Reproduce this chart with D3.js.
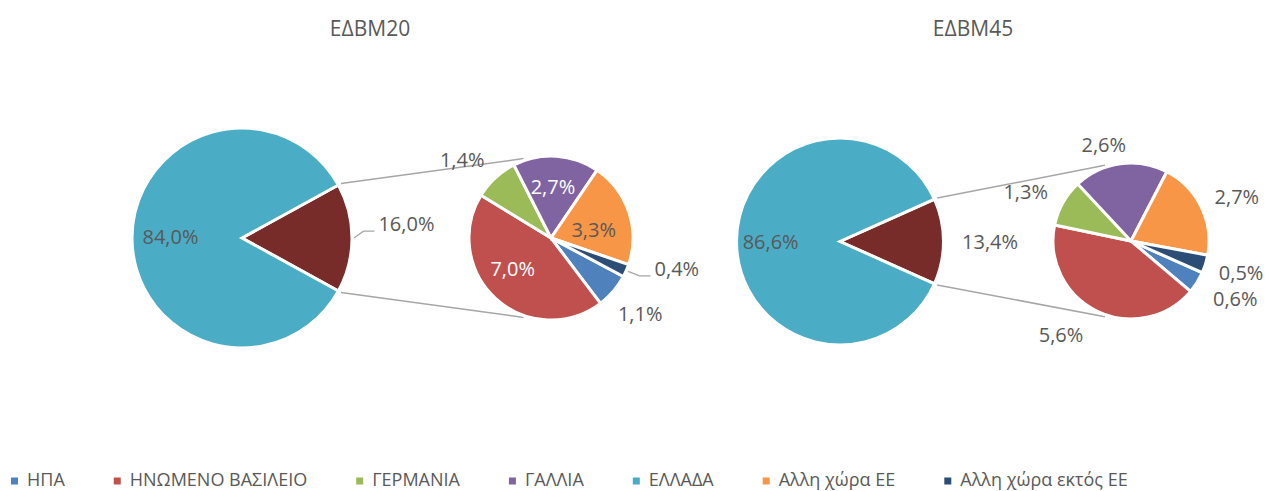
<!DOCTYPE html>
<html lang="el">
<head>
<meta charset="UTF-8">
<title>ΕΔΒΜ20 / ΕΔΒΜ45</title>
<script src="https://d3js.org/d3.v7.min.js"></script>
<style>
    body { margin: 0; background: #fff; }
    text { font-family: "Open Sans", sans-serif; fill: #595959; }
</style>
</head>
<body>
<script>
// data (percent)
const categories = ["ΗΠΑ", "ΗΝΩΜΕΝΟ ΒΑΣΙΛΕΙΟ", "ΓΕΡΜΑΝΙΑ", "ΓΑΛΛΙΑ", "ΕΛΛΑΔΑ", "Αλλη χώρα ΕΕ", "Αλλη χώρα εκτός ΕΕ"];
const edbm20 = [1.1, 7.0, 1.4, 2.7, 84.0, 3.3, 0.4];
const edbm45 = [0.6, 5.6, 1.3, 2.6, 86.6, 2.7, 0.5];
const titles = ["ΕΔΒΜ20", "ΕΔΒΜ45"];

const colors = ["#4F81BD", "#C0504D", "#9BBB59", "#8064A2", "#4BACC6", "#F79646", "#2C4D75"];
const otherColor = "#772C2A";

const width = 1269, height = 491;
const rad = d => d * Math.PI / 180;

const svg = d3.select("body").append("svg")
    .attr("width", width).attr("height", height);

// layout per chart
const charts = [
    {
        values: edbm20, title: titles[0], titleX: 370,
        main: {cx: 242, cy: 238, r: 110}, sec: {cx: 551, cy: 238, r: 82}, secStart: 118,
        // label placement: radius factor and angle shift from slice middle (deg)
        secK: [1.43, 0.6, 1.44, 0.63, 0.53, 1.58],
        secDa: [0, 9, -6, -1.5, 7.5, -9.7],
        secWhite: [false, true, false, true, false, false],
        secLeader: [false, false, false, false, false, true],
        mainK: [1.5, 0.65], mainDa: [-4.8, 1], mainLeader: [true, false]
    },
    {
        values: edbm45, title: titles[1], titleX: 973,
        main: {cx: 840, cy: 241.5, r: 103.5}, sec: {cx: 1131, cy: 241, r: 78}, secStart: 114,
        secK: [1.53, 1.5, 1.49, 1.28, 1.47, 1.47],
        secDa: [-3, 10.7, -4.4, -8, 3.5, -1],
        secWhite: [false, false, false, false, false, false],
        secLeader: [false, false, false, false, false, false],
        mainK: [1.45, 0.67], mainDa: [0, 0], mainLeader: [false, false]
    }
];

const fmt = v => d3.format(".1f")(v).replace(".", ",") + "%";
const greeceIdx = categories.indexOf("ΕΛΛΑΔΑ");

function polar(c, angDeg, r) {
    return [c.cx + r * Math.sin(rad(angDeg)), c.cy - r * Math.cos(rad(angDeg))];
}

function drawLabel(g, c, midDeg, k, da, txt, white, leader) {
    const [x, y] = polar(c, midDeg + da, c.r * k);
    const t = g.append("text")
        .attr("x", x).attr("y", y).attr("dy", "0.36em")
        .attr("text-anchor", "middle")
        .style("font-size", "20px")
        .style("fill", white ? "#fff" : "#595959")
        .text(txt);
    if (leader) {
        const w = t.node().getComputedTextLength();
        const start = polar(c, midDeg, c.r + 2);
        const ex = x - w / 2 - 4, ey = y + 7;
        g.append("path")
            .attr("d", `M${start[0]},${start[1]}L${ex - 11},${ey}L${ex},${ey}`)
            .attr("fill", "none").attr("stroke", "#A6A6A6").attr("stroke-width", 1.3);
    }
}

charts.forEach(ch => {
    const g = svg.append("g");
    const secVals = ch.values.map((v, i) => ({v, i})).filter(d => d.i !== greeceIdx);
    const greece = ch.values[greeceIdx];
    const other = +(100 - greece).toFixed(1);

    // title
    g.append("text").attr("x", ch.titleX).attr("y", 36)
        .attr("text-anchor", "middle").style("font-size", "21px").text(ch.title);

    // main pie: "other" slice centred on the right
    const frac = other / 100;
    const mainPie = d3.pie().sort(null).value(d => d.v)
        .startAngle(Math.PI / 2 - frac * Math.PI)
        .endAngle(Math.PI / 2 - frac * Math.PI + 2 * Math.PI);
    const mainData = mainPie([{v: other, c: otherColor}, {v: greece, c: colors[greeceIdx]}]);
    const mainArc = d3.arc().innerRadius(0).outerRadius(ch.main.r);

    // connector lines
    const cUp = mainData[0].startAngle * 180 / Math.PI;
    const cDn = mainData[0].endAngle * 180 / Math.PI;
    const p1 = polar(ch.main, cUp, ch.main.r + 3), p2 = polar(ch.main, cDn, ch.main.r + 3);
    const q1 = polar(ch.sec, -19, ch.sec.r + 2), q2 = polar(ch.sec, 199, ch.sec.r + 2);
    [[p1, q1], [p2, q2]].forEach(([a, b]) => {
        g.append("line").attr("x1", a[0]).attr("y1", a[1]).attr("x2", b[0]).attr("y2", b[1])
            .attr("stroke", "#A6A6A6").attr("stroke-width", 1.5);
    });

    g.append("g").attr("transform", `translate(${ch.main.cx},${ch.main.cy})`)
        .selectAll("path").data(mainData).join("path")
        .attr("d", mainArc).attr("fill", d => d.data.c)
        .attr("stroke", "#fff").attr("stroke-width", 3).attr("stroke-linejoin", "miter");

    mainData.forEach((d, i) => {
        const mid = (d.startAngle + d.endAngle) / 2 * 180 / Math.PI;
        drawLabel(g, ch.main, mid, ch.mainK[i], ch.mainDa[i], fmt(d.data.v), false, ch.mainLeader[i]);
    });

    // secondary pie
    const secPie = d3.pie().sort(null).value(d => d.v)
        .startAngle(rad(ch.secStart)).endAngle(rad(ch.secStart + 360));
    const secData = secPie(secVals);
    const secArc = d3.arc().innerRadius(0).outerRadius(ch.sec.r);
    g.append("g").attr("transform", `translate(${ch.sec.cx},${ch.sec.cy})`)
        .selectAll("path").data(secData).join("path")
        .attr("d", secArc).attr("fill", d => colors[d.data.i])
        .attr("stroke", "#fff").attr("stroke-width", 3).attr("stroke-linejoin", "miter");

    secData.forEach((d, j) => {
        const mid = (d.startAngle + d.endAngle) / 2 * 180 / Math.PI;
        drawLabel(g, ch.sec, mid, ch.secK[j], ch.secDa[j], fmt(d.data.v), ch.secWhite[j], ch.secLeader[j]);
    });
});

// legend
const legend = svg.append("g");
let lx = 11;
categories.forEach((name, i) => {
    legend.append("rect").attr("x", lx).attr("y", 477.5).attr("width", 7).attr("height", 7)
        .attr("fill", colors[i]);
    const t = legend.append("text").attr("x", lx + 16).attr("y", 486)
        .style("font-size", "18px").text(name);
    lx += 16 + t.node().getComputedTextLength() + 49;
});
</script>
</body>
</html>
